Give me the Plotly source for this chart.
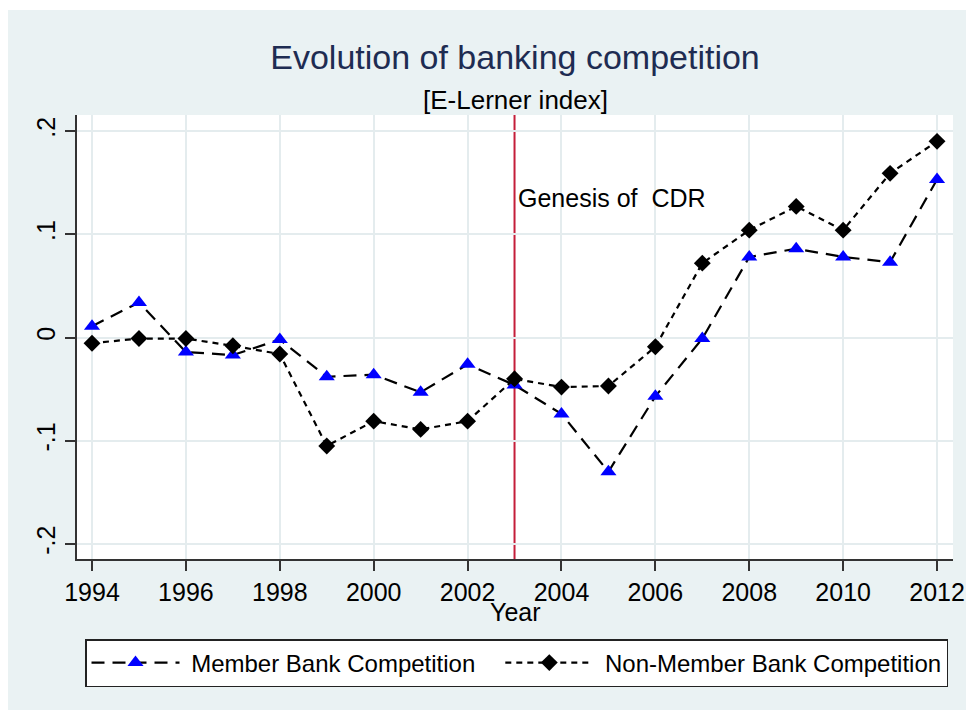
import plotly.graph_objects as go

# Annual E-Lerner index for member and non-member banks
years = list(range(1994, 2013))
member = [0.011, 0.034, -0.014, -0.017, -0.002, -0.038, -0.036, -0.053, -0.026, -0.046,
          -0.074, -0.130, -0.057, -0.001, 0.078, 0.086, 0.078, 0.073, 0.153]
non_member = [-0.0055, -0.001, -0.001, -0.008, -0.016, -0.105, -0.081, -0.089, -0.081, -0.040,
              -0.048, -0.047, -0.009, 0.072, 0.104, 0.127, 0.104, 0.159, 0.190]

x_ticks = list(range(1994, 2013, 2))
y_ticks = [-0.2, -0.1, 0, 0.1, 0.2]
y_tick_labels = ["-.2", "-.1", "0", ".1", ".2"]

event_year = 2003
event_label = "Genesis of  CDR"

FONT = "Liberation Sans, Arial, Helvetica, sans-serif"
GRID = "#E4ECEE"
REGION = "#EAF2F3"
AXIS = "#333333"
NBSP = "\u00a0"

W, H = 966, 710
ML, MR, MT, MB = 77, 13, 115, 151
PW, PH = W - ML - MR, H - MT - MB


def px_x(p):
    return (p - ML) / PW


def px_y(p):
    return (H - MB - p) / PH


fig = go.Figure()

fig.add_trace(go.Scatter(
    x=years, y=member, name=NBSP + "Member Bank Competition" + NBSP * 3,
    mode="lines+markers",
    line=dict(color="black", width=2.2, dash="13px,8px"),
    marker=dict(symbol="triangle-up", size=14, color="#0000FF", line=dict(width=0)),
))
fig.add_trace(go.Scatter(
    x=years, y=non_member, name=NBSP + "Non-Member Bank Competition",
    mode="lines+markers",
    line=dict(color="black", width=2.2, dash="6px,5px"),
    marker=dict(symbol="diamond", size=13, color="black", line=dict(width=0)),
))

shapes = [
    # event marker
    dict(type="line", xref="x", yref="paper", x0=event_year, x1=event_year, y0=0, y1=1,
         line=dict(color="#C41E3A", width=2), layer="between"),
    # white page border around the graph region
    dict(type="rect", xref="paper", yref="paper", x0=px_x(0), x1=px_x(W), y0=px_y(10), y1=px_y(0),
         fillcolor="white", line=dict(width=0), layer="above"),
    dict(type="rect", xref="paper", yref="paper", x0=px_x(0), x1=px_x(8), y0=px_y(H), y1=px_y(0),
         fillcolor="white", line=dict(width=0), layer="above"),
]

annotations = [
    dict(text="[E-Lerner index]", xref="paper", yref="paper", x=0.5, y=px_y(100),
         xanchor="center", yanchor="middle", showarrow=False,
         font=dict(family=FONT, size=26, color="black")),
    dict(text="Year", xref="paper", yref="paper", x=0.5, y=px_y(612),
         xanchor="center", yanchor="middle", showarrow=False,
         font=dict(family=FONT, size=25, color="black")),
    dict(text=event_label, xref="x", yref="y", x=event_year, y=0.1355,
         xanchor="left", yanchor="middle", xshift=1, showarrow=False,
         font=dict(family=FONT, size=25, color="black")),
]

fig.update_layout(
    width=W, height=H,
    margin=dict(l=ML, r=MR, t=MT, b=MB, autoexpand=False),
    paper_bgcolor=REGION,
    plot_bgcolor="white",
    font=dict(family=FONT, size=25, color="black"),
    title=dict(text="Evolution of banking competition", x=0.5, xref="paper",
               y=1 - 57 / H, yref="container", xanchor="center", yanchor="middle",
               font=dict(family=FONT, size=34, color="#1E2C52")),
    shapes=shapes,
    annotations=annotations,
    showlegend=True,
    legend=dict(orientation="h", x=px_x(85), y=px_y(639), xanchor="left", yanchor="top",
                bgcolor="white", bordercolor="#222222", borderwidth=1.5,
                itemwidth=88,
                font=dict(family=FONT, size=24, color="black"),
                traceorder="normal"),
)

fig.update_xaxes(
    range=[1993.68, 2012.34], tickvals=x_ticks,
    ticks="outside", ticklen=10, tickwidth=1.5, tickcolor=AXIS,
    showline=True, linecolor=AXIS, linewidth=1.5,
    showgrid=True, gridcolor=GRID, gridwidth=2, zeroline=False,
    tickfont=dict(family=FONT, size=25, color="black"),
)
fig.update_yaxes(
    range=[-0.2145, 0.2155], tickvals=y_ticks, ticktext=y_tick_labels, tickangle=-90,
    ticks="outside", ticklen=10, tickwidth=1.5, tickcolor=AXIS,
    showline=True, linecolor=AXIS, linewidth=1.5,
    showgrid=True, gridcolor=GRID, gridwidth=2, zeroline=False,
    tickfont=dict(family=FONT, size=25, color="black"),
)

fig.write_html("out.html")
